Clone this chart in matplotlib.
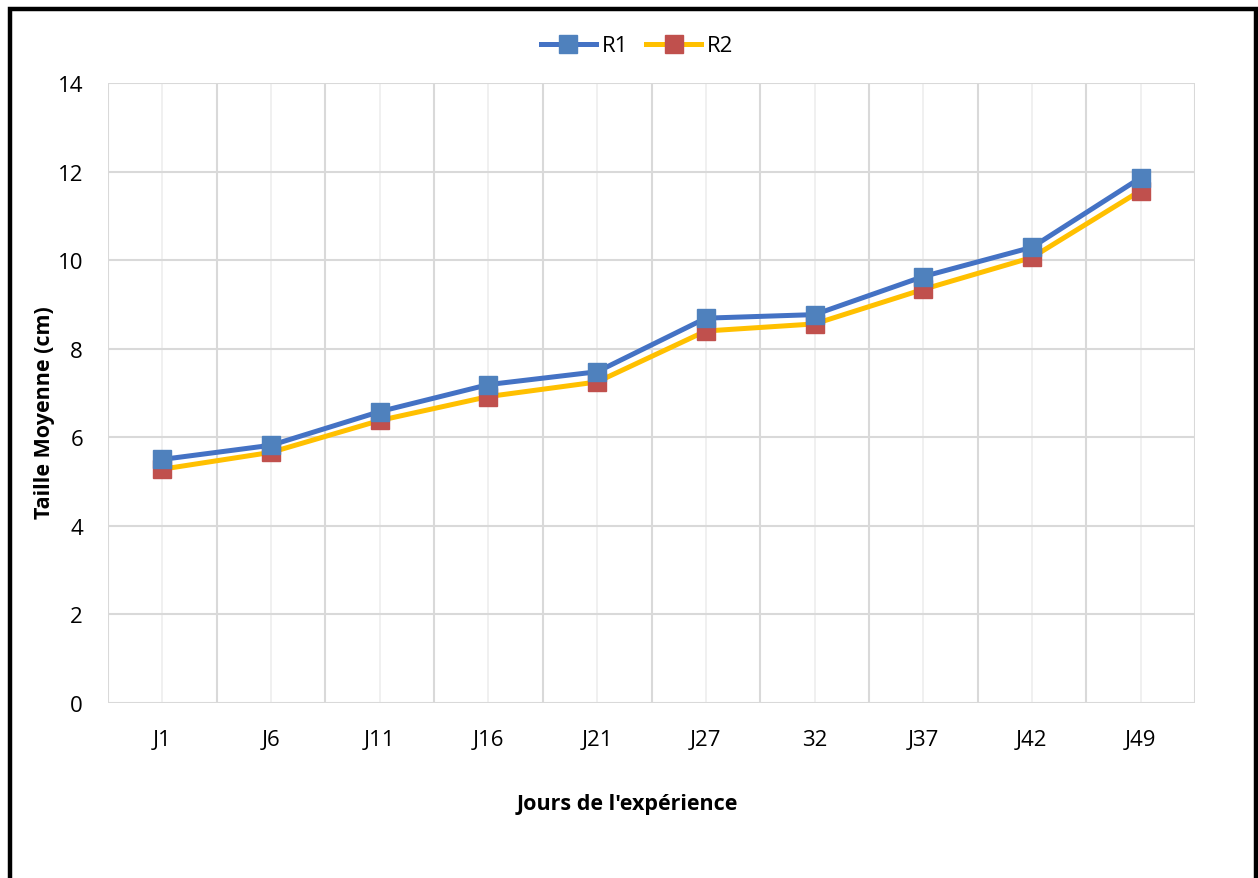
import numpy as np
import matplotlib.pyplot as plt
from matplotlib.patches import Rectangle

plt.rcParams['font.family'] = ['Open Sans', 'DejaVu Sans']

# data
jours = ["J1", "J6", "J11", "J16", "J21", "J27", "32", "J37", "J42", "J49"]
r1 = [5.50, 5.82, 6.58, 7.19, 7.48, 8.69, 8.77, 9.63, 10.29, 11.86]
r2 = [5.28, 5.66, 6.38, 6.92, 7.25, 8.40, 8.56, 9.34, 10.06, 11.57]

W, H = 1258, 879
fig = plt.figure(figsize=(W / 100, H / 100), dpi=100)
ax = fig.add_axes([108 / W, 1 - 704 / H, (1195 - 108) / W, 620 / H])

x = np.arange(len(jours))
ax.plot(x, r1, color="#4472C4", lw=3.6, marker="s", ms=13,
        mfc="#4F81BD", mec="#4F81BD", label="R1", zorder=4)
ax.plot(x, r2, color="#FFC000", lw=3.6, marker="s", ms=13,
        mfc="#C0504D", mec="#C0504D", label="R2", zorder=3)

ax.set_xlim(-0.5, len(jours) - 0.5)
ax.set_ylim(0, 14)
ax.set_yticks(np.arange(0, 15, 2))
ax.set_xticks(x)
ax.set_xticklabels(jours)
ax.set_xticks(np.arange(-0.5, len(jours), 1), minor=True)

# grid
ax.grid(axis="y", which="major", color="#D9D9D9", lw=1.5)
ax.grid(axis="x", which="minor", color="#D9D9D9", lw=1.5)
ax.grid(axis="x", which="major", color="#EDEDED", lw=1.2)
ax.set_axisbelow(True)
for s in ax.spines.values():
    s.set_visible(False)
ax.tick_params(which="both", length=0, labelsize=16, colors="black")
ax.tick_params(axis="x", pad=19)
ax.tick_params(axis="y", pad=18)

# axis titles
fig.text(45 / W, 1 - 413 / H, "Taille Moyenne (cm)", rotation=90,
         ha="center", va="center", fontsize=15.5, fontweight="bold")
fig.text(627 / W, 1 - 805 / H, "Jours de l'expérience",
         ha="center", va="center", fontsize=15.5, fontweight="bold")

ax.legend(loc="center", bbox_to_anchor=(637 / W, 1 - 47 / H), bbox_transform=fig.transFigure,
          ncol=2, frameon=False, fontsize=16, handlelength=2.5, columnspacing=0.8,
          handletextpad=0.25)

# black frame around the chart
fig.patches.append(Rectangle((10 / W, -0.05), 1246 / W, 1.05 - 10 / H,
                             transform=fig.transFigure, fill=False,
                             edgecolor="black", lw=3.2))

fig.savefig("out.png", dpi=100)
